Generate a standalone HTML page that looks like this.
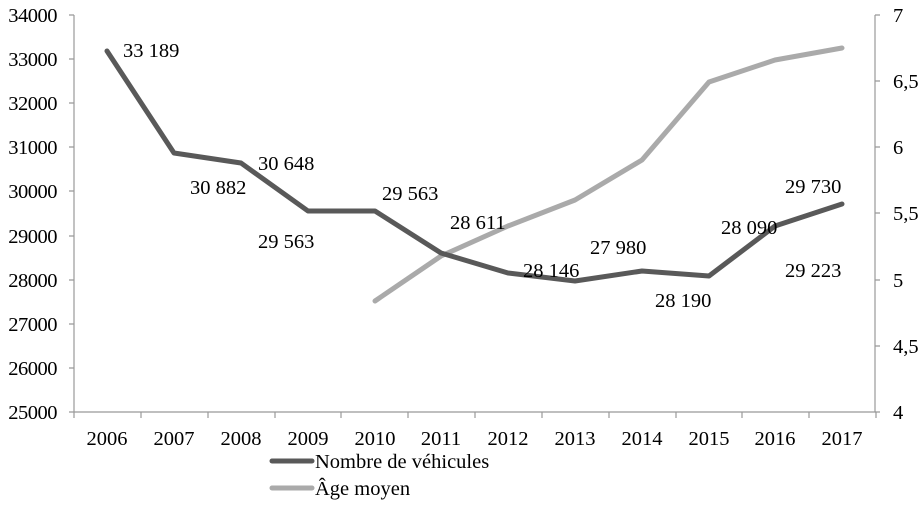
<!DOCTYPE html>
<html><head><meta charset="utf-8"><style>body{margin:0;background:#fff}svg{display:block}text{font-family:"Liberation Serif",serif;fill:#000}</style></head><body>
<svg width="923" height="517" xmlns="http://www.w3.org/2000/svg">
<g stroke="#999" stroke-width="1.2" fill="none">
<line x1="74" y1="15" x2="74" y2="412"/>
<line x1="74" y1="412" x2="876" y2="412"/>
<line x1="875" y1="15" x2="875" y2="412"/>
<path d="M69 15H74M69 59H74M69 103H74M69 147H74M69 191H74M69 236H74M69 280H74M69 324H74M69 368H74M69 412H74"/>
<path d="M875 15H880M875 81H880M875 147H880M875 213H880M875 280H880M875 346H880M875 412H880"/>
<path d="M74 412V418M141 412V418M208 412V418M275 412V418M341 412V418M408 412V418M475 412V418M542 412V418M609 412V418M676 412V418M742 412V418M809 412V418M876 412V418"/>
</g>
<g font-size="20.5" text-anchor="end" letter-spacing="-0.5">
<text x="57" y="22">34000</text><text x="57" y="66">33000</text><text x="57" y="110">32000</text><text x="57" y="154">31000</text><text x="57" y="198">30000</text><text x="57" y="243">29000</text><text x="57" y="287">28000</text><text x="57" y="331">27000</text><text x="57" y="375">26000</text><text x="57" y="419">25000</text>
</g>
<g font-size="20.5">
<text x="893" y="22">7</text><text x="893" y="88">6,5</text><text x="893" y="154">6</text><text x="893" y="220">5,5</text><text x="893" y="287">5</text><text x="893" y="353">4,5</text><text x="893" y="419">4</text>
</g>
<g font-size="20.5" text-anchor="middle">
<text x="107" y="445">2006</text><text x="174" y="445">2007</text><text x="241" y="445">2008</text><text x="308" y="445">2009</text><text x="375" y="445">2010</text><text x="441" y="445">2011</text><text x="508" y="445">2012</text><text x="575" y="445">2013</text><text x="642" y="445">2014</text><text x="709" y="445">2015</text><text x="775" y="445">2016</text><text x="842" y="445">2017</text>
</g>
<polyline fill="none" stroke="#aaa" stroke-width="5" stroke-linejoin="round" stroke-linecap="round" points="375,301 441,256 508,226 575,200 642,160 709,82 775,60 842,48"/>
<polyline fill="none" stroke="#595959" stroke-width="5" stroke-linejoin="round" stroke-linecap="round" points="107,51 174,153 241,163 308,211 375,211 441,253 508,273 575,281 642,271 709,276 775,226 842,204"/>
<g font-size="20.5">
<text x="123" y="57">33 189</text>
<text x="190" y="194">30 882</text>
<text x="258" y="170">30 648</text>
<text x="258" y="248">29 563</text>
<text x="382" y="200">29 563</text>
<text x="450" y="229">28 611</text>
<text x="523" y="277">28 146</text>
<text x="590" y="254">27 980</text>
<text x="655" y="307">28 190</text>
<text x="721" y="234">28 090</text>
<text x="785" y="277">29 223</text>
<text x="785" y="193">29 730</text>
</g>
<line x1="272" y1="461" x2="312" y2="461" stroke="#595959" stroke-width="5" stroke-linecap="round"/>
<line x1="272" y1="488" x2="312" y2="488" stroke="#aaa" stroke-width="5" stroke-linecap="round"/>
<text x="315" y="468" font-size="20.5">Nombre de véhicules</text>
<text x="315" y="495" font-size="20.5">Âge moyen</text>
</svg>
</body></html>
